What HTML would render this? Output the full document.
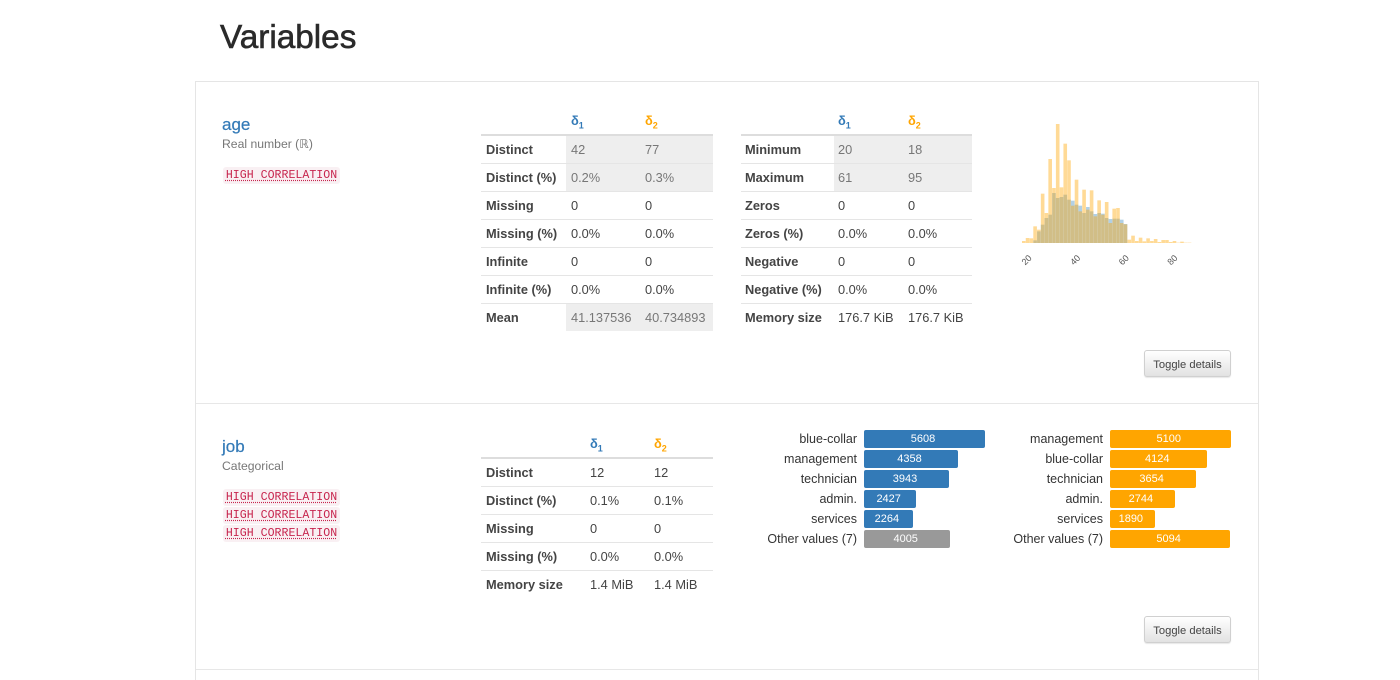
<!DOCTYPE html>
<html lang="en">
<head>
<meta charset="utf-8">
<title>Variables</title>
<style>
html,body{margin:0;padding:0;background:#fff;width:1400px;height:680px;overflow:hidden;}
body{position:relative;font-family:"Liberation Sans",Arial,sans-serif;color:#333;}
.abs{position:absolute;}
h1{position:absolute;left:220px;top:18px;margin:0;font-size:33.3px;line-height:40px;font-weight:400;color:#2a2a2a;-webkit-text-stroke:.6px #2a2a2a;}
#panel{position:absolute;left:195px;top:81px;width:1062px;height:598px;border:1px solid #e5e5e5;border-bottom:0;box-sizing:content-box;}
.sep{position:absolute;left:196px;width:1062px;height:1px;background:#e7e7e7;}
.var-name{position:absolute;left:222px;font-size:17px;line-height:20px;color:#337ab7;-webkit-text-stroke:.2px #337ab7;}
.var-type{position:absolute;left:222px;font-size:12.2px;line-height:16px;color:#777;}
.badge{position:absolute;left:223px;width:117px;height:17px;line-height:17px;background:#f9f0f3;border-radius:3px;color:#c7254e;font-family:"Liberation Mono",monospace;font-size:11.6px;text-align:center;text-decoration:underline dotted #c7254e;text-underline-offset:2px;white-space:nowrap;}
table{position:absolute;border-collapse:collapse;table-layout:fixed;font-size:12.8px;color:#444;}
th,td{height:28px;padding:2px 0 0 5px;box-sizing:border-box;text-align:left;font-weight:400;border-top:1px solid #e5e5e5;white-space:nowrap;line-height:18px;}
tbody th{font-weight:700;color:#444;}
thead th{border-top:0;border-bottom:2px solid #ddd;height:29px;font-weight:700;}
.d1{color:#337ab7;}
.d2{color:#ffa500;}
sub{font-size:9px;line-height:0;}
tr.hl td{background:#eee;color:#777;}
.toggle{position:absolute;left:1144px;width:87px;height:27px;box-sizing:border-box;padding:2px 0 0;border:1px solid #d0d0d0;border-radius:3px;background:linear-gradient(#fff,#e2e2e2);box-shadow:0 1px 1px rgba(0,0,0,.1);font-family:"Liberation Sans",Arial,sans-serif;font-size:11.2px;color:#444;}
.bar{position:absolute;height:18px;box-sizing:border-box;padding-right:3px;border-radius:2px;color:#fff;font-size:11px;line-height:19px;text-align:center;}
.bar-label{position:absolute;height:18px;line-height:19px;font-size:12.5px;color:#333;text-align:right;white-space:nowrap;}
</style>
</head>
<body>
<h1>Variables</h1>
<div id="panel"></div>
<div class="sep" style="top:403px"></div>
<div class="sep" style="top:669px"></div>

<div class="var-name" style="top:115px">age</div>
<div class="var-type" style="top:136px">Real number (ℝ)</div>
<div class="badge" style="top:167px">HIGH CORRELATION</div>

<table style="left:481px;top:106px;width:232px">
<colgroup><col style="width:85px"><col style="width:74px"><col style="width:73px"></colgroup>
<thead><tr><th></th><th class="d1">δ<sub>1</sub></th><th class="d2">δ<sub>2</sub></th></tr></thead>
<tbody>
<tr class="hl"><th>Distinct</th><td>42</td><td>77</td></tr>
<tr class="hl"><th>Distinct (%)</th><td>0.2%</td><td>0.3%</td></tr>
<tr><th>Missing</th><td>0</td><td>0</td></tr>
<tr><th>Missing (%)</th><td>0.0%</td><td>0.0%</td></tr>
<tr><th>Infinite</th><td>0</td><td>0</td></tr>
<tr><th>Infinite (%)</th><td>0.0%</td><td>0.0%</td></tr>
<tr class="hl"><th>Mean</th><td>41.137536</td><td>40.734893</td></tr>
</tbody></table>

<table style="left:741px;top:106px;width:231px">
<colgroup><col style="width:93px"><col style="width:70px"><col style="width:68px"></colgroup>
<thead><tr><th style="padding-left:4px"></th><th class="d1" style="padding-left:4px">δ<sub>1</sub></th><th class="d2" style="padding-left:4px">δ<sub>2</sub></th></tr></thead>
<tbody>
<tr class="hl"><th style="padding-left:4px">Minimum</th><td style="padding-left:4px">20</td><td style="padding-left:4px">18</td></tr>
<tr class="hl"><th style="padding-left:4px">Maximum</th><td style="padding-left:4px">61</td><td style="padding-left:4px">95</td></tr>
<tr><th style="padding-left:4px">Zeros</th><td style="padding-left:4px">0</td><td style="padding-left:4px">0</td></tr>
<tr><th style="padding-left:4px">Zeros (%)</th><td style="padding-left:4px">0.0%</td><td style="padding-left:4px">0.0%</td></tr>
<tr><th style="padding-left:4px">Negative</th><td style="padding-left:4px">0</td><td style="padding-left:4px">0</td></tr>
<tr><th style="padding-left:4px">Negative (%)</th><td style="padding-left:4px">0.0%</td><td style="padding-left:4px">0.0%</td></tr>
<tr><th style="padding-left:4px">Memory size</th><td style="padding-left:4px">176.7 KiB</td><td style="padding-left:4px">176.7 KiB</td></tr>
</tbody></table>

<svg id="age-histogram" class="abs" style="left:0;top:0" width="1400" height="680"></svg>
<button class="toggle" style="top:350px">Toggle details</button>

<div class="var-name" style="top:437px">job</div>
<div class="var-type" style="top:458px">Categorical</div>
<div class="badge" style="top:489px">HIGH CORRELATION</div>
<div class="badge" style="top:507px">HIGH CORRELATION</div>
<div class="badge" style="top:525px">HIGH CORRELATION</div>

<table style="left:481px;top:429px;width:232px">
<colgroup><col style="width:104px"><col style="width:64px"><col style="width:64px"></colgroup>
<thead><tr><th></th><th class="d1">δ<sub>1</sub></th><th class="d2">δ<sub>2</sub></th></tr></thead>
<tbody>
<tr><th>Distinct</th><td>12</td><td>12</td></tr>
<tr><th>Distinct (%)</th><td>0.1%</td><td>0.1%</td></tr>
<tr><th>Missing</th><td>0</td><td>0</td></tr>
<tr><th>Missing (%)</th><td>0.0%</td><td>0.0%</td></tr>
<tr><th>Memory size</th><td>1.4 MiB</td><td>1.4 MiB</td></tr>
</tbody></table>

<div id="job-bars"></div>
<button class="toggle" style="top:616px">Toggle details</button>

<script>
// Age histogram data (estimated counts per bin)
const binStartAge = 18;
const binWidthYears = 1.55;
const orangeCounts = [6,15,14,50,40,148,90,252,165,357,167,298,248,112,190,95,160,100,158,80,128,85,123,60,103,105,60,56,10,22,6,16,5,14,6,12,3,9,9,3,6,1,4,1,1];
const blueCounts = [0,0,0,8,35,55,75,85,150,135,138,145,130,127,115,112,90,108,95,87,90,88,75,72,73,73,70,57,0,0,0,0,0,0,0,0,0,0,0,0,0,0,0,0,0];
const ageTicks = [20,40,60,80];

// Job frequency data
const job1Categories = ["blue-collar","management","technician","admin.","services","Other values (7)"];
const job1Values = [5608,4358,3943,2427,2264,4005];
const job2Categories = ["management","blue-collar","technician","admin.","services","Other values (7)"];
const job2Values = [5100,4124,3654,2744,1890,5094];

const SVG_NS = "http://www.w3.org/2000/svg";
const hist = document.getElementById("age-histogram");
function histX(age){ return 1022 + (age - 18) * 2.43; }
function histY(count){ return 243 - count / 3; }

function drawSeries(counts, color, opacity, name){
  counts.forEach(function(c, i){
    if(!c) return;
    const r = document.createElementNS(SVG_NS, "rect");
    const left = histX(binStartAge + i * binWidthYears);
    const right = histX(binStartAge + (i + 1) * binWidthYears);
    r.setAttribute("x", left);
    r.setAttribute("y", histY(c));
    r.setAttribute("width", right - left - 0.15);
    r.setAttribute("height", 243 - histY(c));
    r.setAttribute("fill", color);
    r.setAttribute("fill-opacity", opacity);
    
    
    hist.appendChild(r);
  });
}
drawSeries(blueCounts, "#1f77b4", 0.35, "age-histogram-bar-blue");
drawSeries(orangeCounts, "#ffa500", 0.41, "age-histogram-bar-orange");

ageTicks.forEach(function(t){
  const x = histX(t) - 0.2;
  const label = document.createElementNS(SVG_NS, "text");
  label.setAttribute("x", x);
  label.setAttribute("y", 263);
  label.setAttribute("transform", "rotate(-45 " + x + " 260)");
  label.setAttribute("text-anchor", "middle");
  label.setAttribute("font-size", "9");
  label.setAttribute("fill", "#555");
  label.setAttribute("font-family", "Liberation Sans, sans-serif");
  label.textContent = t;
  
  
  hist.appendChild(label);
});

const barsRoot = document.getElementById("job-bars");
function drawBars(categories, values, left, maxValue, maxWidth, colorFor, name){
  categories.forEach(function(cat, i){
    const top = 430 + i * 20;
    const lab = document.createElement("div");
    lab.className = "bar-label";
    lab.style.left = (left - 207) + "px";
    lab.style.width = "200px";
    lab.style.top = top + "px";
    lab.textContent = cat;
    
    
    barsRoot.appendChild(lab);
    const bar = document.createElement("div");
    bar.className = "bar";
    bar.style.left = left + "px";
    bar.style.top = top + "px";
    bar.style.width = (values[i] / maxValue * maxWidth) + "px";
    bar.style.background = colorFor(i);
    bar.textContent = values[i];
    
    
    barsRoot.appendChild(bar);
  });
}
drawBars(job1Categories, job1Values, 864, 5608, 121, function(i){ return i === 5 ? "#999" : "#337ab7"; }, "job-delta1");
drawBars(job2Categories, job2Values, 1110, 5100, 120.5, function(){ return "#ffa500"; }, "job-delta2");
</script>
</body>
</html>
